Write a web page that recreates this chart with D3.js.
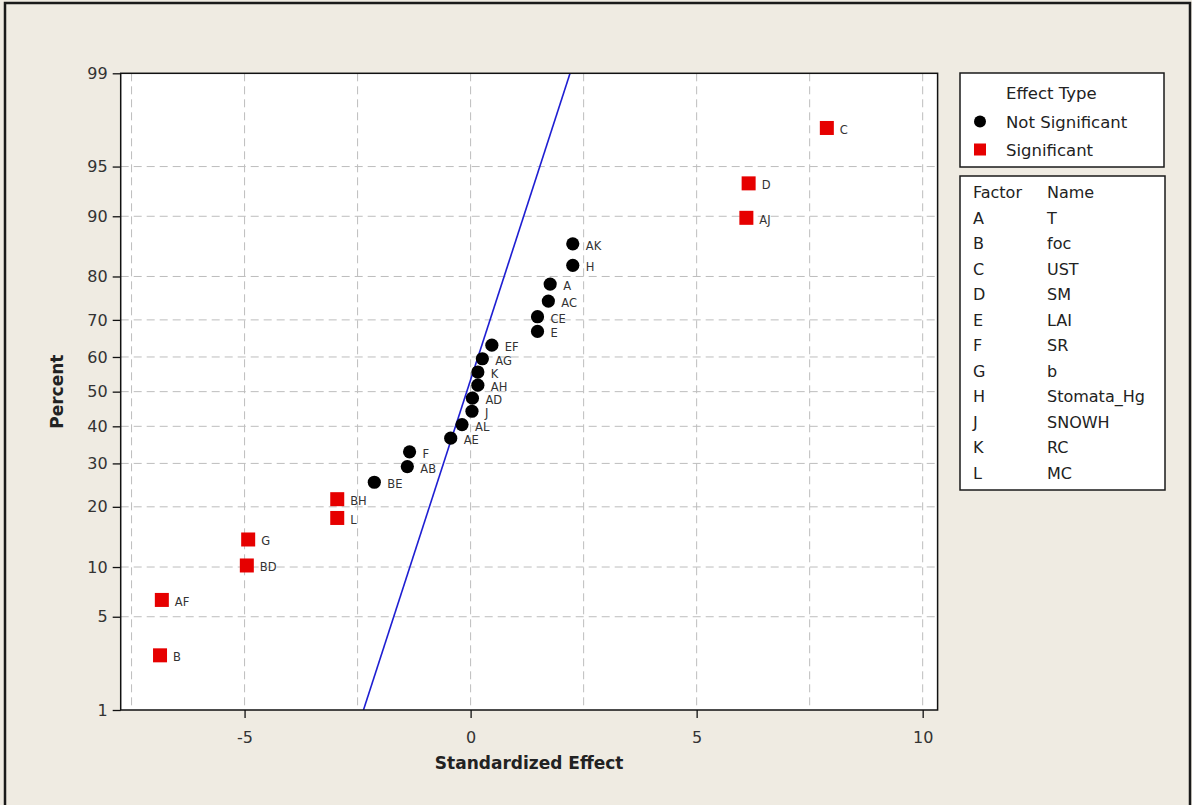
<!DOCTYPE html>
<html><head><meta charset="utf-8">
<script src="https://cdn.jsdelivr.net/npm/d3@7"></script>
<style>
body{margin:0;background:#EFEBE2}
svg{display:block}
text{font-family:"DejaVu Sans",sans-serif}
</style>
</head><body>
<svg id="c" width="1192" height="805"></svg>
<script>
// ---- data ----
const pointLabels = ["B","AF","BD","G","L","BH","BE","AB","F","AE","AL","J","AD","AH","K","AG","EF","E","CE","AC","A","H","AK","AJ","D","C"];
const effects     = [-6.87,-6.83,-4.95,-4.92,-2.95,-2.95,-2.13,-1.40,-1.35,-0.44,-0.19,0.03,0.04,0.16,0.16,0.26,0.47,1.48,1.48,1.72,1.76,2.26,2.26,6.10,6.15,7.88];
const percents    = [2.7,6.4,10.2,14.0,17.8,21.6,25.4,29.2,33.0,36.7,40.5,44.3,48.1,51.9,55.7,59.5,63.3,67.0,70.8,74.6,78.4,82.2,86.0,89.8,93.6,97.3];
const effectTypes = ["Significant","Significant","Significant","Significant","Significant","Significant",
  "Not Significant","Not Significant","Not Significant","Not Significant","Not Significant","Not Significant",
  "Not Significant","Not Significant","Not Significant","Not Significant","Not Significant","Not Significant",
  "Not Significant","Not Significant","Not Significant","Not Significant","Not Significant",
  "Significant","Significant","Significant"];
const lineEffects  = [-2.37, 2.20];
const linePercents = [1, 99];
const xTickValues = [-5, 0, 5, 10];
const xGridValues = [-7.5, -5, -2.5, 0, 2.5, 5, 7.5, 10];
const yTickValues = [1, 5, 10, 20, 30, 40, 50, 60, 70, 80, 90, 95, 99];
const legendTypes = ["Not Significant", "Significant"];
const factorCodes = ["A","B","C","D","E","F","G","H","J","K","L"];
const factorNames = ["T","foc","UST","SM","LAI","SR","b","Stomata_Hg","SNOWH","RC","MC"];

// ---- helpers ----
function qnorm(p){
  const a=[-3.969683028665376e+01,2.209460984245205e+02,-2.759285104469687e+02,1.383577518672690e+02,-3.066479806614716e+01,2.506628277459239e+00];
  const b=[-5.447609879822406e+01,1.615858368580409e+02,-1.556989798598866e+02,6.680131188771972e+01,-1.328068155288572e+01];
  const c=[-7.784894002430293e-03,-3.223964580411365e-01,-2.400758277161838e+00,-2.549732539343734e+00,4.374664141464968e+00,2.938163982698783e+00];
  const d=[7.784695709041462e-03,3.224671290700398e-01,2.445134137142996e+00,3.754408661907416e+00];
  const pl=0.02425, ph=1-pl; let q,r;
  if(p<pl){q=Math.sqrt(-2*Math.log(p));return (((((c[0]*q+c[1])*q+c[2])*q+c[3])*q+c[4])*q+c[5])/((((d[0]*q+d[1])*q+d[2])*q+d[3])*q+1);}
  if(p>ph){q=Math.sqrt(-2*Math.log(1-p));return -(((((c[0]*q+c[1])*q+c[2])*q+c[3])*q+c[4])*q+c[5])/((((d[0]*q+d[1])*q+d[2])*q+d[3])*q+1);}
  q=p-0.5; r=q*q;
  return (((((a[0]*r+a[1])*r+a[2])*r+a[3])*r+a[4])*r+a[5])*q/(((((b[0]*r+b[1])*r+b[2])*r+b[3])*r+b[4])*r+1);
}

const svg = d3.select("#c");
const W=1192, H=805;
const L=120.7, R=937.6, T=73.3, B=710;

svg.append("rect").attr("width",W).attr("height",H).attr("fill","#EFEBE2");
svg.append("path").attr("d",`M5,${H} V3 H1190 V${H}`).attr("fill","none").attr("stroke","#1a1a1a").attr("stroke-width",2.5);

const x = d3.scaleLinear().domain([-7.74, 10.33]).range([L, R]);
const yz = d3.scaleLinear().domain([qnorm(0.01), qnorm(0.99)]).range([B, T]);
const y = p => yz(qnorm(p/100));

// plot area
svg.append("rect").attr("x",L).attr("y",T).attr("width",R-L).attr("height",B-T).attr("fill","#fff");

// grid
const grid = svg.append("g").attr("stroke","#BDBDBD").attr("stroke-width",1).attr("stroke-dasharray","8,5");
grid.selectAll("line.v").data(xGridValues).join("line")
  .attr("x1",d=>x(d)).attr("x2",d=>x(d)).attr("y1",T).attr("y2",B);
grid.selectAll("line.h").data(yTickValues.filter(p=>p>1&&p<99)).join("line")
  .attr("x1",L).attr("x2",R).attr("y1",d=>y(d)).attr("y2",d=>y(d));

// fitted line
svg.append("defs").append("clipPath").attr("id","clip").append("rect")
  .attr("x",L).attr("y",T).attr("width",R-L).attr("height",B-T);
svg.append("path")
  .datum(lineEffects.map((e,i)=>[e,linePercents[i]]))
  .attr("clip-path","url(#clip)")
  .attr("d",d3.line().x(d=>x(d[0])).y(d=>y(d[1])))
  .attr("fill","none").attr("stroke","#1E1ED2").attr("stroke-width",1.6);

// frame
svg.append("rect").attr("x",L).attr("y",T).attr("width",R-L).attr("height",B-T)
  .attr("fill","none").attr("stroke","#111").attr("stroke-width",1.5);

// axes
const xAxis = svg.append("g").attr("transform",`translate(0,${B})`)
  .call(d3.axisBottom(x).tickValues(xTickValues).tickSize(8).tickSizeOuter(0).tickPadding(14).tickFormat(d3.format("d")));
const yAxis = svg.append("g").attr("transform",`translate(${L},0)`)
  .call(d3.axisLeft(yz).tickValues(yTickValues.map(p=>qnorm(p/100))).tickSize(8).tickSizeOuter(0).tickPadding(5)
    .tickFormat((d,i)=>yTickValues[i]));
[xAxis,yAxis].forEach(g=>{
  g.select(".domain").remove();
  g.selectAll(".tick line").attr("stroke","#111").attr("stroke-width",1.3);
  g.selectAll(".tick text").attr("fill","#333").style("font-size","16px").style("font-family","DejaVu Sans");
});
xAxis.selectAll(".tick text").text(d=>d<0?"-"+Math.abs(d):d);

// axis titles
svg.append("text").attr("x",(L+R)/2).attr("y",769).attr("text-anchor","middle")
  .style("font-size","17px").style("font-weight","bold").attr("fill","#222").text("Standardized Effect");
svg.append("text").attr("transform",`translate(63,${(T+B)/2}) rotate(-90)`).attr("text-anchor","middle")
  .style("font-size","17px").style("font-weight","bold").attr("fill","#222").text("Percent");

// points
const pts = pointLabels.map((lab,i)=>({lab, e:effects[i], p:percents[i], t:effectTypes[i]}));
const pg = svg.append("g");
pg.selectAll("circle").data(pts.filter(d=>d.t==="Not Significant")).join("circle")
  .attr("cx",d=>x(d.e)).attr("cy",d=>y(d.p)).attr("r",6.6).attr("fill","#000");
pg.selectAll("rect").data(pts.filter(d=>d.t==="Significant")).join("rect")
  .attr("x",d=>x(d.e)-7).attr("y",d=>y(d.p)-7).attr("width",14).attr("height",14).attr("fill","#E60000");
pg.selectAll("text").data(pts).join("text")
  .attr("x",d=>x(d.e)+13).attr("y",d=>y(d.p)+6)
  .style("font-size","11.5px").attr("fill","#333").text(d=>d.lab);

// legend 1
const lg = svg.append("g");
lg.append("rect").attr("x",960).attr("y",73).attr("width",204).attr("height",94)
  .attr("fill","#fff").attr("stroke","#1a1a1a").attr("stroke-width",1.5);
lg.append("text").attr("x",1006).attr("y",99).style("font-size","16.5px").attr("fill","#222").text("Effect Type");
legendTypes.forEach((t,i)=>{
  const cy = 121.5 + i*28;
  if(t==="Not Significant") lg.append("circle").attr("cx",980).attr("cy",cy).attr("r",6).attr("fill","#000");
  else lg.append("rect").attr("x",974).attr("y",cy-6).attr("width",12).attr("height",12).attr("fill","#E60000");
  lg.append("text").attr("x",1006).attr("y",cy+6).style("font-size","16.5px").attr("fill","#222").text(t);
});

// legend 2
const lg2 = svg.append("g");
lg2.append("rect").attr("x",960).attr("y",176).attr("width",205).attr("height",314)
  .attr("fill","#fff").attr("stroke","#1a1a1a").attr("stroke-width",1.5);
lg2.append("text").attr("x",973).attr("y",198).style("font-size","16px").attr("fill","#222").text("Factor");
lg2.append("text").attr("x",1047).attr("y",198).style("font-size","16px").attr("fill","#222").text("Name");
factorCodes.forEach((f,i)=>{
  const by = 223.5 + i*25.5;
  lg2.append("text").attr("x",973).attr("y",by).style("font-size","16px").attr("fill","#222").text(f);
  lg2.append("text").attr("x",1047).attr("y",by).style("font-size","16px").attr("fill","#222").text(factorNames[i]);
});
</script>
</body></html>
